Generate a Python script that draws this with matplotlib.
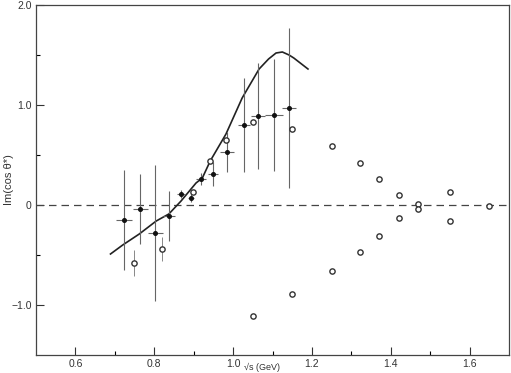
import numpy as np
import matplotlib
matplotlib.use("Agg")
import matplotlib.pyplot as plt
from matplotlib.ticker import FixedLocator

plt.rcParams['font.family'] = ['Liberation Sans', 'DejaVu Sans']

# filled points with error bars
x_dot = [0.724, 0.765, 0.803, 0.838, 0.868, 0.894, 0.919, 0.949, 0.985, 1.027, 1.063, 1.104, 1.142]
y_dot = [-0.15, -0.04, -0.28, -0.11, 0.11, 0.07, 0.26, 0.31, 0.53, 0.80, 0.89, 0.90, 0.97]
yerr_dot = [0.50, 0.35, 0.68, 0.25, 0.04, 0.04, 0.06, 0.12, 0.20, 0.47, 0.53, 0.56, 0.80]
xerr_dot = [0.020, 0.018, 0.020, 0.015, 0.010, 0.008, 0.012, 0.013, 0.017, 0.015, 0.018, 0.023, 0.017]

# open points
x_open = [0.749, 0.820, 0.899, 0.942, 0.982, 1.051, 1.051, 1.149, 1.149, 1.251, 1.251,
          1.322, 1.322, 1.370, 1.370, 1.420, 1.420, 1.470, 1.470, 1.551, 1.551, 1.649]
y_open = [-0.58, -0.44, 0.13, 0.44, 0.65, 0.83, -1.11, 0.76, -0.89, 0.59, -0.66,
          0.42, -0.47, 0.26, -0.31, 0.10, -0.13, 0.01, -0.04, 0.13, -0.16, -0.01]
yerr_open = [0.13, 0.12] + [0] * 20

# fitted curve
x_fit = [0.689, 0.72, 0.762, 0.805, 0.837, 0.868, 0.906, 0.922, 0.942, 0.982, 1.023,
         1.066, 1.09, 1.109, 1.125, 1.142, 1.154, 1.19]
y_fit = [-0.49, -0.40, -0.29, -0.16, -0.09, 0.04, 0.22, 0.27, 0.44, 0.71, 1.07,
         1.36, 1.46, 1.52, 1.53, 1.50, 1.47, 1.36]

fig = plt.figure(figsize=(5.11, 3.73), dpi=100)
ax = fig.add_axes([36/511, 18/373, 473/511, 350/373])

ax.axhline(0, color='#444444', lw=0.9, ls=(0, (6, 4)))
ax.plot(x_fit, y_fit, color='#222222', lw=1.2)

ax.errorbar(x_dot, y_dot, yerr=yerr_dot, xerr=xerr_dot, fmt='o', ms=2.6,
            color='#111111', ecolor='#666666', elinewidth=0.8, capsize=0)
ax.errorbar(x_open, y_open, yerr=yerr_open, fmt='o', ms=3.8, mfc='white',
            mec='#333333', mew=1.0, ecolor='#888888', elinewidth=0.7, capsize=0)

ax.set_xlim(0.5, 1.7)
ax.set_ylim(-1.5, 2.0)
ax.xaxis.set_major_locator(FixedLocator([0.6, 0.8, 1.0, 1.2, 1.4, 1.6]))
ax.xaxis.set_minor_locator(FixedLocator([0.7, 0.9, 1.1, 1.3, 1.5]))
ax.set_xticklabels(['0.6', '0.8', '1.0', '1.2', '1.4', '1.6'])
ax.yaxis.set_major_locator(FixedLocator([-1.0, 0, 1.0, 2.0]))
ax.yaxis.set_minor_locator(FixedLocator([-0.5, 0.5, 1.5]))
ax.set_yticklabels(['\u22121.0', '0', '1.0', '2.0'])
ax.tick_params(which='major', direction='in', length=6, width=0.8, labelsize=7.5,
               colors='#333333', pad=3)
ax.tick_params(which='minor', direction='in', length=3, width=0.8)
for s in ax.spines.values():
    s.set_color('#444444')
    s.set_linewidth(0.9)

ax.set_ylabel('Im(cos \u03b8*)', fontsize=8, color='#333333')
ax.yaxis.set_label_coords(-0.046, 0.5)
fig.text(262/511, 0.002, '\u221as (GeV)', fontsize=6.5, color='#333333',
         ha='center', va='bottom')

fig.savefig('out.png', dpi=100)
